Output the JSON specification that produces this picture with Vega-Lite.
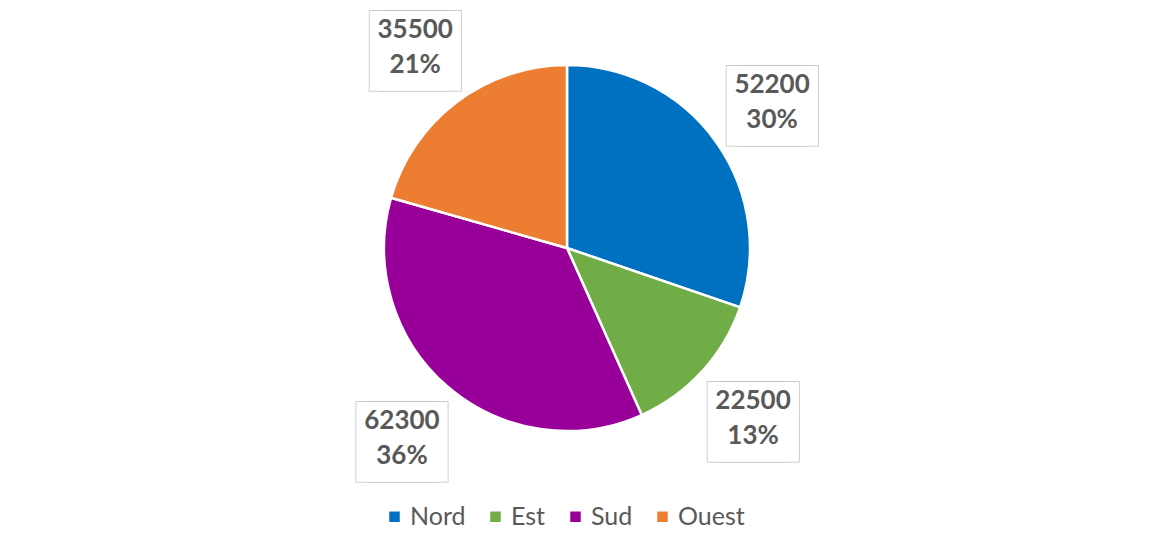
{
  "$schema": "https://vega.github.io/schema/vega-lite/v6.json",
  "width": 700,
  "height": 470,
  "autosize": "none",
  "padding": {"left": 217, "top": 13, "right": 244, "bottom": 73},
  "background": "white",
  "config": {"view": {"stroke": null}},
  "data": {
    "values": [
      {"region": "Nord", "ventes": 52200, "part": "30%", "ordre": 1},
      {"region": "Est", "ventes": 22500, "part": "13%", "ordre": 2},
      {"region": "Sud", "ventes": 62300, "part": "36%", "ordre": 3},
      {"region": "Ouest", "ventes": 35500, "part": "21%", "ordre": 4}
    ]
  },
  "encoding": {
    "theta": {"field": "ventes", "type": "quantitative", "stack": true},
    "order": {"field": "ordre", "type": "ordinal"}
  },
  "layer": [
    {
      "mark": {"type": "arc", "outerRadius": 183, "stroke": "white", "strokeWidth": 2.5},
      "encoding": {
        "color": {
          "field": "region",
          "type": "nominal",
          "scale": {"domain": ["Nord", "Est", "Sud", "Ouest"], "range": ["#0070C0", "#70AD47", "#990099", "#ED7D31"]},
          "legend": {
            "title": null,
            "orient": "none",
            "legendX": 165,
            "legendY": 491,
            "padding": 0,
            "direction": "horizontal",
            "symbolType": "square",
            "symbolSize": 110,
            "symbolStrokeWidth": 0,
            "labelFont": "Lato",
            "labelFontSize": 25,
            "labelColor": "#595959",
            "columnPadding": 17,
            "labelOffset": 3
          }
        }
      }
    },
    {
      "mark": {"type": "text", "radius": 252, "text": "■", "font": "DejaVu Sans", "fontSize": 104, "fill": "white", "stroke": "#BFBFBF", "strokeWidth": 1.5, "dx": -6}
    },
    {
      "mark": {"type": "text", "radius": 252, "text": "■", "font": "DejaVu Sans", "fontSize": 104, "fill": "white", "stroke": "#BFBFBF", "strokeWidth": 1.5, "dx": 6}
    },
    {
      "mark": {"type": "text", "radius": 252, "text": "■", "font": "DejaVu Sans", "fontSize": 104, "fill": "white", "strokeWidth": 0, "dx": -6}
    },
    {
      "mark": {"type": "text", "radius": 252, "text": "■", "font": "DejaVu Sans", "fontSize": 104, "fill": "white", "strokeWidth": 0, "dx": 6}
    },
    {
      "mark": {"type": "text", "radius": 252, "font": "Lato", "fontWeight": "bold", "fontSize": 26, "fill": "#595959", "dy": -17},
      "encoding": {"text": {"field": "ventes", "type": "quantitative", "format": "d"}}
    },
    {
      "mark": {"type": "text", "radius": 252, "font": "Lato", "fontWeight": "bold", "fontSize": 26, "fill": "#595959", "dy": 18},
      "encoding": {"text": {"field": "part", "type": "nominal"}}
    }
  ]
}
